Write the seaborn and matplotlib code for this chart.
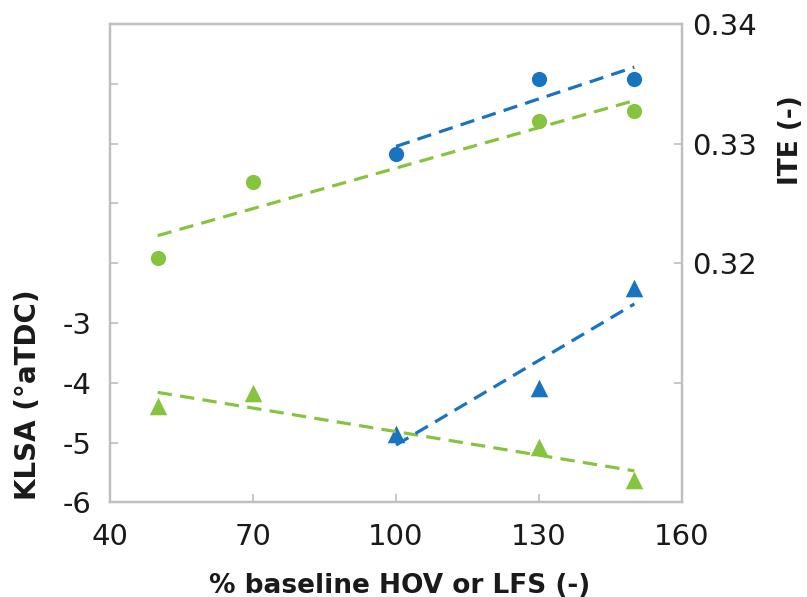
import matplotlib
matplotlib.use('Agg')
import matplotlib.pyplot as plt
import seaborn as sns

# % of baseline (x) for each series
hov_x = [100, 130, 150]
lfs_x = [50, 70, 130, 150]

# ITE (right axis), circles
hov_ite = [0.3291, 0.3354, 0.3354]
lfs_ite = [0.3204, 0.3268, 0.3319, 0.3327]

# KLSA (left axis), triangles
hov_klsa = [-4.86, -4.08, -2.41]
lfs_klsa = [-4.39, -4.17, -5.08, -5.63]

x_ticks = [40, 70, 100, 130, 160]
klsa_ticks = [-6, -5, -4, -3, -2, -1, 0, 1, 2]
klsa_labels = ['-6', '-5', '-4', '-3', '', '', '', '', '']
ite_ticks = [0.30, 0.31, 0.32, 0.33, 0.34]
ite_labels = ['', '', '0.32', '0.33', '0.34']

blue = '#1874C1'
green = '#86C440'
grey = '#BFBFBF'
ink = '#1a1a1a'

sns.set_theme(style='white')
plt.rcParams['font.family'] = ['DejaVu Sans']

fig = plt.figure(figsize=(8.07, 5.97), dpi=100)
ax = fig.add_axes([0.1363, 0.1586, 0.7088, 0.8012])
ax2 = ax.twinx()

dash = (0, (4.5, 2.6))

# triangles on the left axis
for xs, ys, c in [(lfs_x, lfs_klsa, green), (hov_x, hov_klsa, blue)]:
    sns.regplot(x=xs, y=ys, ax=ax, ci=None, marker='^', color=c,
                scatter_kws={'s': 160, 'alpha': 1, 'linewidths': 0},
                line_kws={'lw': 2.3, 'linestyle': dash})

# circles on the right axis
for xs, ys, c in [(lfs_x, lfs_ite, green), (hov_x, hov_ite, blue)]:
    sns.regplot(x=xs, y=ys, ax=ax2, ci=None, marker='o', color=c,
                scatter_kws={'s': 120, 'alpha': 1, 'linewidths': 0},
                line_kws={'lw': 2.3, 'linestyle': dash})

ax.set_xlim(40, 160)
ax.set_ylim(-6, 2)
ax2.set_ylim(0.30, 0.34)

ax.set_xticks(x_ticks)
ax.set_xticklabels([str(t) for t in x_ticks])
ax.set_yticks(klsa_ticks)
ax.set_yticklabels(klsa_labels)
ax2.set_yticks(ite_ticks)
ax2.set_yticklabels(ite_labels)

for a in (ax, ax2):
    for s in a.spines.values():
        s.set_color(grey)
        s.set_linewidth(1.6)

ax.tick_params(axis='both', direction='in', length=6, width=1.2, color=grey,
               labelsize=21, labelcolor=ink)
ax.tick_params(axis='x', pad=15, bottom=True)
ax.tick_params(axis='y', pad=13, left=True)
ax2.tick_params(axis='y', direction='in', length=6, width=1.2, color=grey,
                labelsize=21, labelcolor=ink, pad=7, right=True)

ax.set_xlabel('% baseline HOV or LFS (-)', fontsize=19, fontweight='bold', color=ink)
ax.set_ylabel('KLSA (°aTDC)', fontsize=20, fontweight='bold', color=ink)
ax2.set_ylabel('ITE (-)', fontsize=19, fontweight='bold', color=ink)
ax.xaxis.set_label_coords(0.507, -0.147)
ax.yaxis.set_label_coords(-0.119, 0.224)
ax2.yaxis.set_label_coords(1.168, 0.757)

fig.savefig('out.png', dpi=100)
